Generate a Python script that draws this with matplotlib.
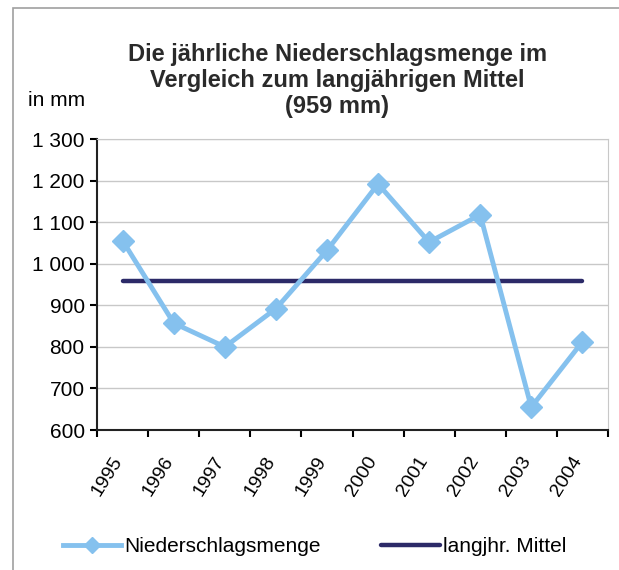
import numpy as np
import matplotlib
matplotlib.use("Agg")
import matplotlib.pyplot as plt
from matplotlib.patches import Rectangle
from matplotlib.ticker import FuncFormatter
from matplotlib.transforms import ScaledTranslation

plt.rcParams["font.family"] = ["Liberation Sans", "DejaVu Sans"]

years = ["1995", "1996", "1997", "1998", "1999",
         "2000", "2001", "2002", "2003", "2004"]
niederschlag = [1055, 857, 800, 892, 1032, 1192, 1052, 1118, 655, 812]
mittel = [959] * len(years)

light_blue = "#85C1EE"
navy = "#2C2A68"

fig = plt.figure(figsize=(6.19, 5.70), dpi=100)
ax = fig.add_axes([0.157, 0.2456, 0.825, 0.5105])

x = np.arange(len(years)) + 0.5
ax.plot(x, niederschlag, color=light_blue, lw=3.5, marker="D", ms=11,
        mec=light_blue, mfc=light_blue, label="Niederschlagsmenge", zorder=3)
ax.plot(x, mittel, color=navy, lw=3.2, solid_capstyle="round",
        label="langjhr. Mittel", zorder=2)

ax.set_xlim(0, len(years))
ax.set_ylim(600, 1300)
ax.set_yticks(np.arange(600, 1301, 100))
ax.yaxis.set_major_formatter(FuncFormatter(lambda v, p: f"{int(v):,}".replace(",", " ")))
ax.grid(axis="y", color="#C8C8C8", lw=1)
ax.set_axisbelow(True)

# ticks on category boundaries, labels at category centres
ax.set_xticks(np.arange(0, len(years) + 1))
ax.set_xticklabels([])
ax.set_xticks(x, minor=True)
ax.set_xticklabels(years, minor=True, rotation=58, ha="right", va="center",
                   rotation_mode="anchor", fontsize=14)
ax.tick_params(axis="x", which="minor", length=0, pad=20)
ax.tick_params(axis="x", which="major", direction="out", length=5, width=1.5)
ax.tick_params(axis="y", direction="out", length=5, width=1.5, labelsize=15, pad=4)
shift = ScaledTranslation(-0.045, 0, fig.dpi_scale_trans)
for lab in ax.get_xticklabels(minor=True):
    lab.set_transform(lab.get_transform() + shift)

for s in ["left", "bottom"]:
    ax.spines[s].set_linewidth(1.5)
    ax.spines[s].set_color("#222222")
ax.spines["top"].set_color("#C8C8C8")
ax.spines["right"].set_color("#C8C8C8")

fig.text(0.545, 0.925, "Die jährliche Niederschlagsmenge im\nVergleich zum langjährigen Mittel\n(959 mm)",
         ha="center", va="top", fontsize=17, fontweight="bold", linespacing=1.18,
         color="#2A2A2A")
fig.text(0.045, 0.823, "in mm", ha="left", va="center", fontsize=15)

fig.legend(loc="center left", bbox_to_anchor=(63 / 619, 1 - 547 / 570), ncol=2,
           frameon=False, fontsize=15, handlelength=2.8, handletextpad=0.15,
           columnspacing=2.9, borderpad=0, borderaxespad=0, markerscale=0.75)

fig.patches.append(Rectangle((0.021, -0.05), 1.2, 1.036, transform=fig.transFigure,
                             fill=False, ec="#A0A0A0", lw=1.2))

fig.savefig("out.png", dpi=100)
